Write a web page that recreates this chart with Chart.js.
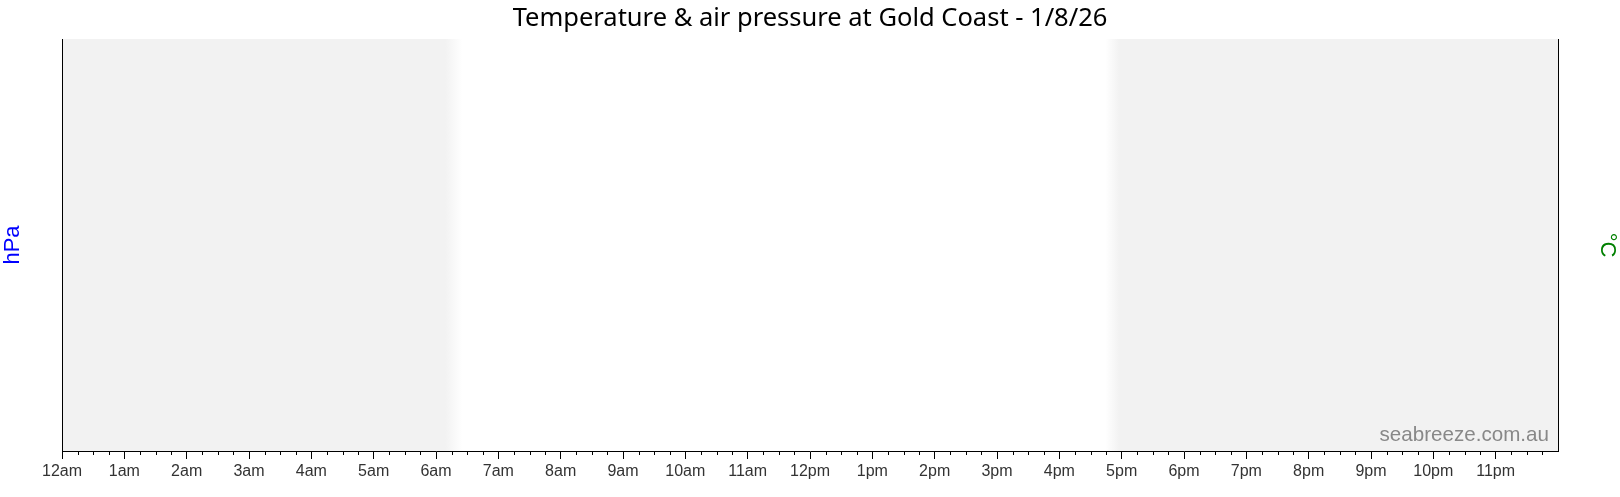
<!DOCTYPE html>
<html>
<head>
<meta charset="utf-8">
<script src="https://cdn.jsdelivr.net/npm/chart.js@4/dist/chart.umd.min.js"></script>
<style>
  html, body { margin: 0; padding: 0; background: #ffffff; }
  #wrap { width: 1620px; height: 497px; }
</style>
</head>
<body>
<div id="wrap"><canvas id="c" width="1620" height="497"></canvas></div>
<script>
// ---- data (no readings shown in the reference) ----
const titleText = 'Temperature & air pressure at Gold Coast - 1/8/26';
const hourLabels = ['12am','1am','2am','3am','4am','5am','6am','7am','8am','9am','10am','11am',
                    '12pm','1pm','2pm','3pm','4pm','5pm','6pm','7pm','8pm','9pm','10pm','11pm'];
const pressureTimes = [];
const pressureValues = [];
const temperatureTimes = [];
const temperatureValues = [];
// darkness shading (hours of day): fade out in morning, fade in at evening
const morningFade = [6.15, 6.42];
const eveningFade = [16.74, 16.96];
const watermark = 'seabreeze.com.au';

const shadePlugin = {
  id: 'shade',
  beforeDraw(chart) {
    const {ctx, chartArea: a, scales: {x}} = chart;
    const w = a.right - a.left;
    const g = ctx.createLinearGradient(a.left, 0, a.right, 0);
    const stop = v => Math.min(1, Math.max(0, (x.getPixelForValue(v) - a.left) / w));
    const night = '#f2f2f2', day = '#ffffff';
    g.addColorStop(0, night);
    g.addColorStop(stop(morningFade[0]), night);
    g.addColorStop(stop(morningFade[1]), day);
    g.addColorStop(stop(eveningFade[0]), day);
    g.addColorStop(stop(eveningFade[1]), night);
    g.addColorStop(1, night);
    ctx.save();
    ctx.fillStyle = g;
    ctx.fillRect(a.left, a.top, w, a.bottom - a.top);
    ctx.restore();
  },
  afterDraw(chart) {
    const {ctx, chartArea: a, scales: {x}} = chart;
    ctx.save();
    // minor ticks every 15 minutes
    ctx.strokeStyle = '#000';
    ctx.lineWidth = 1;
    ctx.beginPath();
    x.ticks.forEach(t => {
      if (Math.abs(t.value - Math.round(t.value)) > 1e-6) {
        const px = Math.round(x.getPixelForValue(t.value)) + 0.5;
        ctx.moveTo(px, a.bottom);
        ctx.lineTo(px, a.bottom + 4);
      }
    });
    ctx.stroke();
    // watermark
    ctx.font = '20.6px "Liberation Sans", Arial, sans-serif';
    ctx.fillStyle = '#888888';
    ctx.textAlign = 'right';
    ctx.textBaseline = 'alphabetic';
    ctx.fillText(watermark, a.right - 9, a.bottom - 10);
    ctx.restore();
  }
};

const tickFont = {family: '"Liberation Sans", Arial, sans-serif', size: 16};

new Chart(document.getElementById('c'), {
  type: 'line',
  data: {
    datasets: [
      {label: 'Pressure', data: pressureTimes.map((t, i) => ({x: t, y: pressureValues[i]})),
       yAxisID: 'yP', borderColor: '#0000ff', pointRadius: 0},
      {label: 'Temperature', data: temperatureTimes.map((t, i) => ({x: t, y: temperatureValues[i]})),
       yAxisID: 'yT', borderColor: '#008000', pointRadius: 0}
    ]
  },
  options: {
    responsive: false,
    animation: false,
    devicePixelRatio: 1,
    layout: {padding: 0},
    plugins: {
      legend: {display: false},
      tooltip: {enabled: false},
      title: {
        display: true,
        text: titleText,
        color: '#000000',
        font: {family: '"Noto Sans", "Open Sans", sans-serif', size: 25.5, weight: 'normal', lineHeight: 1.2},
        padding: {top: 3.5, bottom: 4.9}
      }
    },
    scales: {
      x: {
        type: 'linear',
        min: 0,
        max: 24,
        afterFit(s) { s.height = 46; },
        border: {display: true, color: '#000000', width: 1},
        grid: {
          drawOnChartArea: false,
          drawTicks: true,
          tickLength: 8,
          tickWidth: 1,
          tickColor: c => (c.tick && Number.isInteger(c.tick.value) && c.tick.value < 24) ? '#000000' : 'rgba(0,0,0,0)'
        },
        ticks: {
          stepSize: 0.25,
          autoSkip: false,
          maxRotation: 0,
          padding: 3,
          color: '#333333',
          font: tickFont,
          callback: v => (Number.isInteger(v) && v < 24) ? hourLabels[v] : ''
        }
      },
      yP: {
        type: 'linear',
        position: 'left',
        min: 1000,
        max: 1030,
        afterFit(s) { s.width = 62; },
        border: {display: true, color: '#000000', width: 1},
        grid: {drawOnChartArea: false, drawTicks: false},
        ticks: {display: false},
        title: {display: true, text: 'hPa', color: '#0000ff', padding: 0,
                font: {family: '"Liberation Sans", Arial, sans-serif', size: 22, lineHeight: 1.2}}
      },
      yT: {
        type: 'linear',
        position: 'right',
        min: 0,
        max: 30,
        afterFit(s) { s.width = 62; },
        border: {display: true, color: '#000000', width: 1},
        grid: {drawOnChartArea: false, drawTicks: false},
        ticks: {display: false},
        title: {display: true, text: '°C', color: '#008000', padding: 0,
                font: {family: '"Liberation Sans", Arial, sans-serif', size: 22, lineHeight: 1.2}}
      }
    }
  },
  plugins: [shadePlugin]
});
</script>
</body>
</html>
